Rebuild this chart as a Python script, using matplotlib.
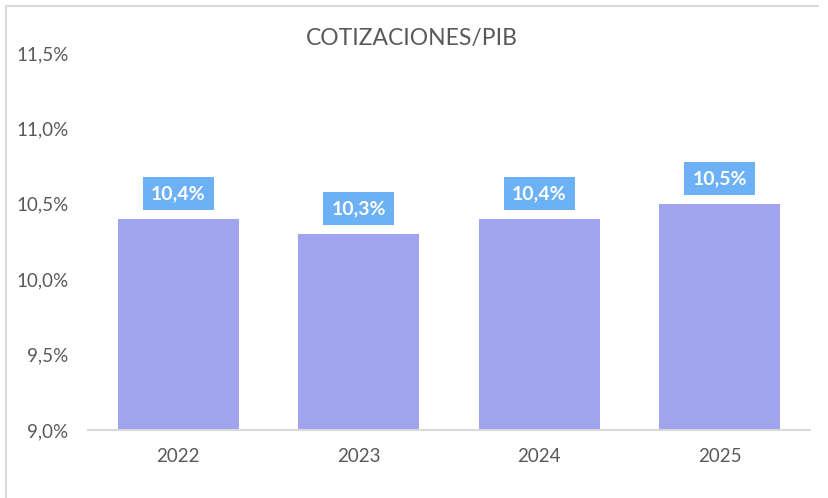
import matplotlib.pyplot as plt
from matplotlib.lines import Line2D

years = ["2022", "2023", "2024", "2025"]
values = [10.4, 10.3, 10.4, 10.5]
yticks = [9.0, 9.5, 10.0, 10.5, 11.0, 11.5]

plt.rcParams['font.family'] = ['Lato', 'DejaVu Sans']

W, H = 829, 498
fig = plt.figure(figsize=(W / 100, H / 100), dpi=100)
ax = fig.add_axes([88 / W, 1 - 430 / H, (810 - 88) / W, (430 - 53) / H])

gray = "#595959"
bars = ax.bar(range(len(years)), values, width=0.67, color="#A0A3EE", zorder=2)
ax.set_ylim(9.0, 11.5)
ax.set_xlim(-0.5, len(years) - 0.5)

ax.set_yticks(yticks)
ax.set_yticklabels([f"{v:.1f}%".replace(".", ",") for v in yticks])
ax.set_xticks(range(len(years)))
ax.set_xticklabels(years)
ax.tick_params(axis="both", length=0, labelsize=13.5, colors=gray)
ax.tick_params(axis="y", pad=14)
ax.tick_params(axis="x", pad=13)

for s in ["top", "right", "left"]:
    ax.spines[s].set_visible(False)
ax.spines["bottom"].set_color("#D9D9D9")
ax.spines["bottom"].set_linewidth(1.5)

# data labels in blue boxes
for i, v in enumerate(values):
    ax.annotate(f"{v:.1f}%".replace(".", ","), (i, v), xytext=(0, 18.3),
                textcoords="offset points", ha="center", va="center",
                fontsize=14, fontweight="bold", color="white",
                bbox=dict(boxstyle="square,pad=0.43", fc="#6CB0F5", ec="none"))

fig.text(412 / W, 1 - 39 / H, "COTIZACIONES/PIB", ha="center", va="center",
         fontsize=16.5, color=gray)

# outer frame (only left and top visible)
fig.add_artist(Line2D([6 / W, 6 / W], [0, 1 - 6 / H], color="#D9D9D9", lw=1.5))
fig.add_artist(Line2D([6 / W, 818 / W], [1 - 6 / H, 1 - 6 / H], color="#D9D9D9", lw=1.5))

fig.savefig("out.png", dpi=100)
